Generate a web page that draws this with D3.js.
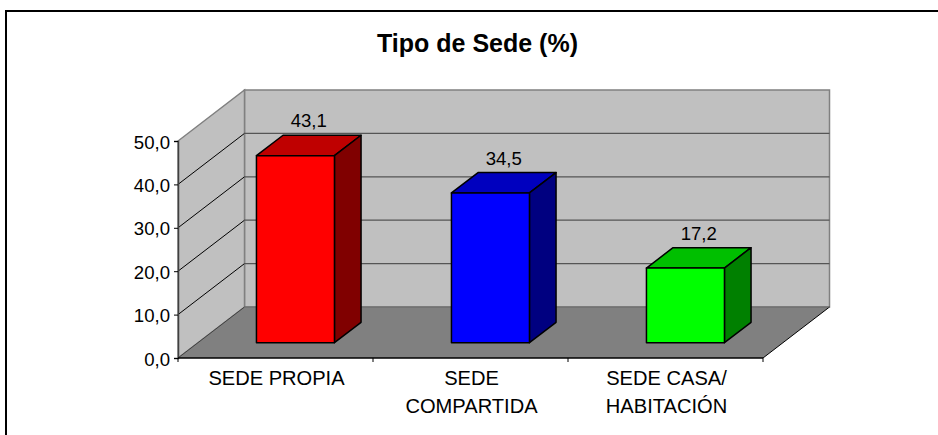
<!DOCTYPE html>
<html>
<head>
<meta charset="utf-8">
<style>
	html, body { margin: 0; padding: 0; background: #fff; overflow: hidden; }
	text { font-family: "Liberation Sans", Arial, sans-serif; fill: #000; }
</style>
</head>
<body>
	<div id="chart"></div>
	<script src="https://d3js.org/d3.v7.min.js"></script>
	<script>
		var title = 'Tipo de Sede (%)';
		var categories = ['SEDE PROPIA', 'SEDE COMPARTIDA', 'SEDE CASA/ HABITACIÓN'];
		var categoryLines = [['SEDE PROPIA'], ['SEDE', 'COMPARTIDA'], ['SEDE CASA/', 'HABITACIÓN']];
		var values = [43.1, 34.5, 17.2];
		var frontColors = ['#ff0000', '#0000ff', '#00ff00'];
		var topColors = ['#bf0000', '#0000bf', '#00bf00'];
		var sideColors = ['#800000', '#000080', '#008000'];
		var yTicks = [0, 10, 20, 30, 40, 50];

		var width = 938, height = 435;
		var fmt = d => d.toFixed(1).replace('.', ',');

		var svg = d3.select('#chart').append('svg')
			.attr('width', width)
			.attr('height', height)
			.style('display', 'block');

		var x = d3.scaleBand().domain(categories).range([178, 763]).paddingInner(0.6).paddingOuter(0.3);
		var y = d3.scaleLinear().domain([0, 50]).range([358, 141]);
		// depth 0 = front of the floor, 1 = back wall
		var depthX = d3.scaleLinear().domain([0, 1]).range([0, 66.5]);
		var depthY = d3.scaleLinear().domain([0, 1]).range([0, -51]);

		var pt = (px, val, dep) => [px + depthX(dep), y(val) + depthY(dep)];
		var poly = pts => 'M' + pts.map(p => p.join(',')).join('L') + 'Z';

		var x0 = x.range()[0], x1 = x.range()[1];

		// outer frame, runs off the right and bottom of the picture
		svg.append('path')
			.attr('d', 'M6,' + (height + 5) + 'V11H' + (width + 5))
			.attr('fill', 'none')
			.attr('stroke', '#000')
			.attr('stroke-width', 2);

		svg.append('text')
			.text(title)
			.attr('x', 477.5)
			.attr('y', 52)
			.attr('text-anchor', 'middle')
			.attr('font-size', 25)
			.attr('font-weight', 'bold');

		// walls
		svg.append('path')
			.attr('d', poly([pt(x0, 0, 1), pt(x1, 0, 1), pt(x1, 50, 1), pt(x0, 50, 1)]))
			.attr('fill', '#c0c0c0')
			.attr('stroke', '#808080')
			.attr('stroke-width', 1.5);
		svg.append('path')
			.attr('d', poly([pt(x0, 0, 0), pt(x0, 0, 1), pt(x0, 50, 1), pt(x0, 50, 0)]))
			.attr('fill', '#c0c0c0')
			.attr('stroke', '#808080')
			.attr('stroke-width', 1.5);

		// gridlines: black on the side wall, dark grey on the back wall
		yTicks.slice(1, -1).forEach(t => {
			svg.append('path')
				.attr('d', 'M' + pt(x0, t, 0) + 'L' + pt(x0, t, 1))
				.attr('fill', 'none')
				.attr('stroke', '#000')
				.attr('stroke-width', 1);
			svg.append('path')
				.attr('d', 'M' + pt(x0, t, 1) + 'L' + pt(x1, t, 1))
				.attr('fill', 'none')
				.attr('stroke', '#555')
				.attr('stroke-width', 1.2);
		});

		// floor
		svg.append('path')
			.attr('d', poly([pt(x0, 0, 0), pt(x1, 0, 0), pt(x1, 0, 1), pt(x0, 0, 1)]))
			.attr('fill', '#808080');
		svg.append('path')
			.attr('d', 'M' + pt(x0, 0, 0) + 'L' + pt(x0, 0, 1))
			.attr('stroke', '#404040')
			.attr('stroke-width', 1);
		svg.append('path')
			.attr('d', 'M' + pt(x1, 0, 0) + 'L' + pt(x1, 0, 1))
			.attr('stroke', '#000')
			.attr('stroke-width', 1);
		svg.append('path')
			.attr('d', 'M' + pt(x0, 0, 1) + 'L' + pt(x1, 0, 1))
			.attr('stroke', '#666')
			.attr('stroke-width', 1);

		// bars
		var dFront = 0.3, dBack = 0.7;
		var bars = svg.selectAll('g.bar')
			.data(categories)
			.enter().append('g')
			.attr('class', 'bar')
			.attr('stroke', '#000')
			.attr('stroke-width', 1.5)
			.attr('stroke-linejoin', 'round');

		bars.each(function(c, i) {
			var g = d3.select(this);
			var l = x(c), r = l + x.bandwidth(), v = values[i];
			g.append('path')
				.attr('d', poly([pt(l, v, dFront), pt(r, v, dFront), pt(r, v, dBack), pt(l, v, dBack)]))
				.attr('fill', topColors[i]);
			g.append('path')
				.attr('d', poly([pt(r, 0, dFront), pt(r, 0, dBack), pt(r, v, dBack), pt(r, v, dFront)]))
				.attr('fill', sideColors[i]);
			g.append('path')
				.attr('d', poly([pt(l, 0, dFront), pt(r, 0, dFront), pt(r, v, dFront), pt(l, v, dFront)]))
				.attr('fill', frontColors[i]);
		});

		// value labels
		svg.selectAll('text.val')
			.data(categories)
			.enter().append('text')
			.attr('class', 'val')
			.text((c, i) => fmt(values[i]))
			.attr('x', c => x(c) + x.bandwidth() / 2 + depthX(0.5))
			.attr('y', (c, i) => y(values[i]) + depthY(dBack) - 8)
			.attr('text-anchor', 'middle')
			.attr('font-size', 18.6);

		// y axis, from d3 but moved on the wall corner
		svg.append('g')
			.attr('transform', 'translate(' + x0 + ',0)')
			.call(d3.axisLeft(y).tickValues(yTicks).tickFormat(fmt).tickSize(4).tickPadding(4))
			.call(g => {
				g.select('.domain').attr('stroke', '#404040').attr('stroke-width', 1.5);
				g.selectAll('text').attr('font-size', 18.6).attr('font-family', null).attr('dy', '0.38em');
			});

		// x axis
		svg.append('path')
			.attr('d', 'M' + x0 + ',' + y(0) + 'H' + x1)
			.attr('stroke', '#000')
			.attr('stroke-width', 1.5);
		var step = x.step();
		svg.selectAll('line.xtick')
			.data(d3.range(categories.length + 1))
			.enter().append('line')
			.attr('class', 'xtick')
			.attr('x1', d => x0 + d * step)
			.attr('x2', d => x0 + d * step)
			.attr('y1', y(0))
			.attr('y2', y(0) + 4)
			.attr('stroke', '#000');

		var labels = svg.selectAll('text.cat')
			.data(categories)
			.enter().append('text')
			.attr('class', 'cat')
			.attr('text-anchor', 'middle')
			.attr('font-size', 20.1);
		labels.each(function(c, i) {
			d3.select(this).selectAll('tspan')
				.data(categoryLines[i])
				.enter().append('tspan')
				.attr('x', x(c) + x.bandwidth() / 2 + 1)
				.attr('y', (d, j) => 385 + j * 27.5)
				.text(d => d);
		});
	</script>
</body>
</html>
